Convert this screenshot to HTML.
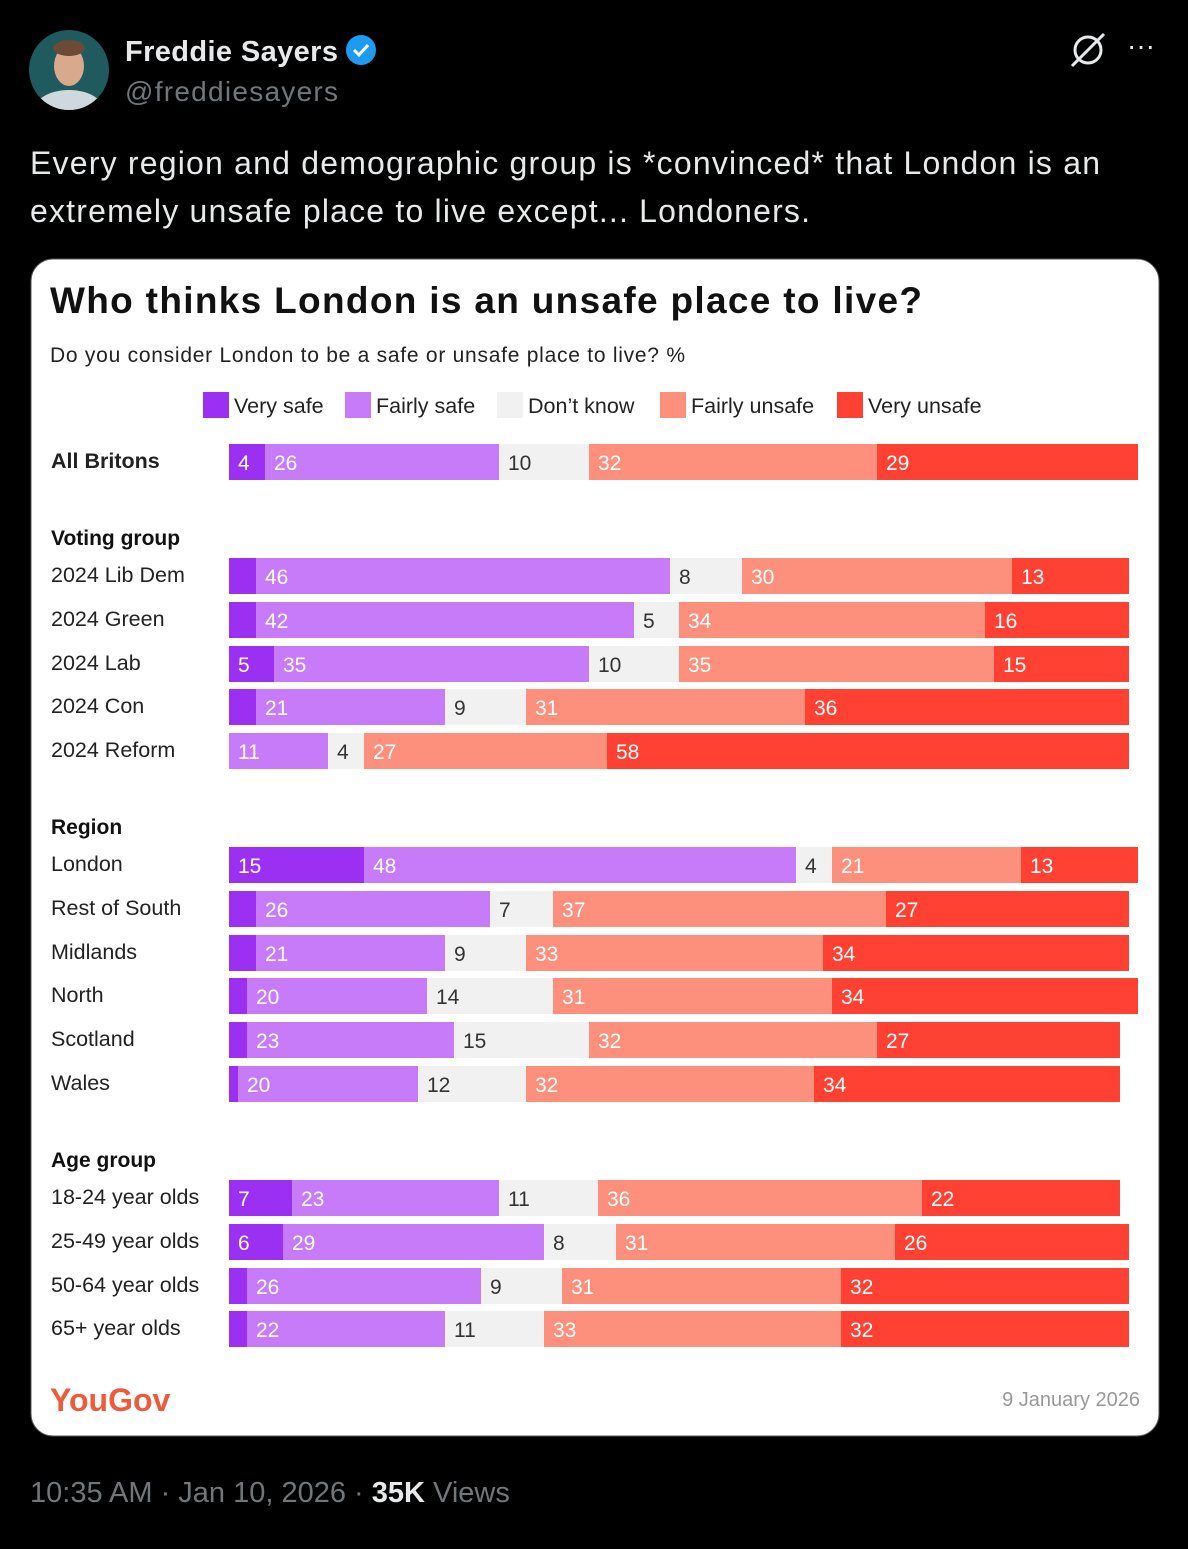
<!DOCTYPE html>
<html><head><meta charset="utf-8">
<style>
body{margin:0;background:#000;width:1188px;height:1544px;overflow:hidden;font-family:"Liberation Sans",sans-serif;}
svg text{font-family:"Liberation Sans",sans-serif;}
</style></head>
<body>
<svg width="1188" height="1544" xmlns="http://www.w3.org/2000/svg">
<defs><clipPath id="av"><circle cx="69" cy="70" r="40"/></clipPath></defs>
<g>
<circle cx="69" cy="70" r="40" fill="#1f5a5e"/>
<g clip-path="url(#av)"><ellipse cx="69" cy="112" rx="36" ry="22" fill="#cfd8dc"/><ellipse cx="69" cy="66" rx="15" ry="20" fill="#d9a98e"/><ellipse cx="69" cy="48" rx="16" ry="8" fill="#6b4a36"/></g>
</g>
<text x="125" y="61" font-size="29" font-weight="bold" fill="#e7e9ea" textLength="213">Freddie Sayers</text>
<g><circle cx="361" cy="50" r="15" fill="#1d9bf0"/><path d="M354 50l5 5 9-10" stroke="#fff" stroke-width="3" fill="none"/></g>
<text x="125" y="101" font-size="28" fill="#71767b" textLength="213">@freddiesayers</text>
<g><circle cx="1088" cy="50" r="13" stroke="#e7e9ea" stroke-width="3" fill="none"/><path d="M1072 66L1104 34" stroke="#e7e9ea" stroke-width="3"/></g>
<text x="1127" y="55" font-size="28" fill="#e7e9ea">···</text>
<text x="30" y="174" font-size="32" fill="#e7e9ea" textLength="1070">Every region and demographic group is *convinced* that London is an</text>
<text x="30" y="222" font-size="32" fill="#e7e9ea" textLength="780">extremely unsafe place to live except... Londoners.</text>
<rect x="31" y="259" width="1128" height="1177" rx="22" fill="#fff" stroke="#555"/>
<text x="50" y="313" font-size="37" font-weight="bold" fill="#111" textLength="872">Who thinks London is an unsafe place to live?</text>
<text x="50" y="362" font-size="21" fill="#222" textLength="635">Do you consider London to be a safe or unsafe place to live? %</text>
<g id="legend"></g>
<g id="bars"></g>
<text x="50" y="1411" font-size="32" font-weight="bold" fill="#ef5a3b">YouGov</text>
<text x="1140" y="1406" font-size="20" fill="#999" text-anchor="end">9 January 2026</text>
<text x="30" y="1502" font-size="29" fill="#71767b">10:35 AM · Jan 10, 2026 · <tspan fill="#e7e9ea" font-weight="bold">35K</tspan> Views</text>
</svg>
<script>
const seriesNames=["Very safe","Fairly safe","Don’t know","Fairly unsafe","Very unsafe"];
const colors=["#9b2ff2","#c77bf8","#f1f1f1","#fd8f7d","#ff4133"];
const categories=["All Britons","2024 Lib Dem","2024 Green","2024 Lab","2024 Con","2024 Reform","London","Rest of South","Midlands","North","Scotland","Wales","18-24 year olds","25-49 year olds","50-64 year olds","65+ year olds"];
const verySafe=[4,3,3,5,3,0,15,3,3,2,2,1,7,6,2,2];
const fairlySafe=[26,46,42,35,21,11,48,26,21,20,23,20,23,29,26,22];
const dontKnow=[10,8,5,10,9,4,4,7,9,14,15,12,11,8,9,11];
const fairlyUnsafe=[32,30,34,35,31,27,21,37,33,31,32,32,36,31,31,33];
const veryUnsafe=[29,13,16,15,36,58,13,27,34,34,27,34,22,26,32,32];
const showLabel=[[1,1,1,1,1],[0,1,1,1,1],[0,1,1,1,1],[1,1,1,1,1],[0,1,1,1,1],[0,1,1,1,1],[1,1,1,1,1],[0,1,1,1,1],[0,1,1,1,1],[0,1,1,1,1],[0,1,1,1,1],[0,1,1,1,1],[1,1,1,1,1],[1,1,1,1,1],[0,1,1,1,1],[0,1,1,1,1]];
const groups=["Voting group","Region","Age group"];
const NS="http://www.w3.org/2000/svg";
const x0=229,unit=9;
const xs=v=>v*unit;
const rowTop=[444,558,602,646,689,733,847,891,935,978,1022,1066,1180,1224,1268,1311];
const groupY=[545,834,1167];
function mk(tag,attrs,parent,txt){const e=document.createElementNS(NS,tag);for(const k in attrs)e.setAttribute(k,attrs[k]);if(txt!=null)e.textContent=txt;parent.appendChild(e);return e;}
const bars=document.getElementById('bars');
groups.forEach((g,i)=>{
 const t=mk('text',{x:51,y:groupY[i],'font-size':21,'font-weight':'bold',fill:'#111'},bars,g);
 
 
});
const series=[verySafe,fairlySafe,dontKnow,fairlyUnsafe,veryUnsafe];
categories.forEach((c,i)=>{
 const y=rowTop[i];
 const lab=mk('text',{x:51,y:y+24,'font-size':21.5,fill:'#222','font-weight':i==0?'bold':'normal'},bars,c);
 
 
 let x=x0;
 series.forEach((s,j)=>{
  const w=xs(s[i]);
  if(w>0){
   const r=mk('rect',{x:x,y:y,width:w,height:36,fill:colors[j]},bars);
   
   
   if(showLabel[i][j]){
    const t=mk('text',{x:x+9,y:y+26,'font-size':21,fill:j==2?'#333':'#fff'},bars,String(s[i]));
    
    
   }
  }
  x+=w;
 });
});
const leg=document.getElementById('legend');
const legX=[203,345,497,660,837];
seriesNames.forEach((n,i)=>{
 const r=mk('rect',{x:legX[i],y:392,width:26,height:26,fill:colors[i]},leg);
 
 
 const t=mk('text',{x:legX[i]+31,y:413,'font-size':21.5,fill:'#222'},leg,n);
 
 
});
</script>
</body></html>
